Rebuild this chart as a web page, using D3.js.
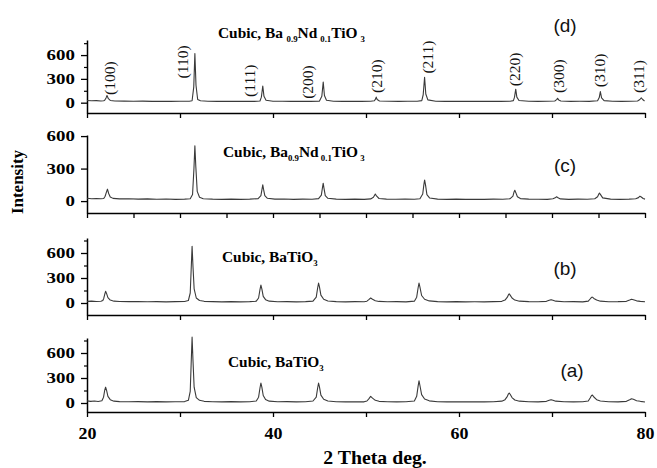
<!DOCTYPE html>
<html>
<head>
<meta charset="utf-8">
<script src="https://cdn.jsdelivr.net/npm/d3@7"></script>
<style>
  html, body { margin: 0; padding: 0; background: #fff; }
  svg { display: block; }
</style>
</head>
<body>
<svg id="chart" width="657" height="468"></svg>
<script>
// ---------- DATA (2θ in degrees, intensity in counts) ----------
const xTickLabels = [20, 40, 60, 80];
const yTickLabels = [0, 300, 600];
const yMinorTicks = [150, 450, 750];

// (d) Cubic Ba0.9Nd0.1TiO3 (top panel)
const patternD = [
  [20,28],[20.5,24],[21,26],[21.5,22],[21.8,24],
  [21.9,30],[22.05,60],[22.15,90],[22.3,50],[22.5,28],
  [23,22],[24,20],[25,18],[26,20],[27,17],[28,19],[29,16],[30,18],[31,19],
  [31.3,24],[31.48,200],[31.6,620],[31.72,220],[31.9,40],[32.2,24],
  [33,18],[34,17],[35,19],[36,16],[37,18],[38,17],[38.6,22],
  [38.75,70],[38.9,210],[39.03,80],[39.25,30],
  [40,18],[41,19],[42,16],[43,18],[44,17],[45,20],
  [45.25,80],[45.4,260],[45.53,90],[45.75,30],
  [46.5,19],[47.5,17],[48.5,18],[49.5,16],[50.5,18],[50.9,24],
  [51.02,45],[51.1,70],[51.2,40],[51.45,22],
  [52.5,18],[53.5,17],[54.5,19],[55.5,18],[56.0,26],
  [56.15,100],[56.3,320],[56.43,110],[56.65,35],
  [57.5,19],[58.5,17],[59.5,18],[60.5,16],[61.5,17],[62.5,18],[63.5,16],[64.5,17],[65.5,19],[65.85,26],
  [65.97,70],[66.1,170],[66.22,70],[66.45,28],
  [67.5,18],[68.5,17],[69.5,18],[70.3,22],
  [70.5,38],[70.6,55],[70.72,35],[70.95,22],
  [72,17],[73,18],[74,17],[74.9,24],
  [75.08,65],[75.2,140],[75.33,60],[75.6,26],
  [76.5,18],[77.5,16],[78.5,18],[79.2,22],
  [79.45,40],[79.6,60],[79.75,40],[79.95,22]
];

// (c) Cubic Ba0.9Nd0.1TiO3
const patternC = [
  [20,26],[20.5,22],[21,24],[21.5,21],[21.8,24],
  [21.95,45],[22.08,80],[22.2,110],[22.33,70],[22.5,38],[22.8,25],
  [23.5,20],[24.5,22],[25.5,18],[26.5,20],[27.5,17],[28.5,19],[29.5,16],[30.5,18],[31.1,22],
  [31.35,60],[31.5,300],[31.6,510],[31.7,320],[31.85,90],[32.1,35],[32.5,22],
  [33.5,18],[34.5,16],[35.5,18],[36.5,16],[37.5,18],[38.4,22],
  [38.7,50],[38.82,110],[38.9,150],[38.98,110],[39.12,50],[39.4,26],
  [40.2,18],[41.2,19],[42.2,16],[43.2,18],[44.2,17],[44.9,23],
  [45.2,55],[45.32,125],[45.4,165],[45.48,120],[45.62,50],[45.9,26],
  [46.8,18],[47.8,16],[48.8,18],[49.8,16],[50.5,20],
  [50.8,35],[51.0,65],[51.15,45],[51.4,24],
  [52.2,18],[53.2,17],[54.2,18],[55.2,17],[55.8,22],
  [56.1,65],[56.22,150],[56.3,195],[56.4,150],[56.55,60],[56.85,28],
  [57.7,18],[58.7,16],[59.7,18],[60.7,16],[61.7,17],[62.7,16],[63.7,18],[64.7,17],[65.5,22],
  [65.8,45],[65.92,85],[66.0,100],[66.1,80],[66.28,40],[66.6,23],
  [67.5,18],[68.5,17],[69.5,16],[70.1,21],
  [70.35,30],[70.5,40],[70.65,30],[70.9,20],
  [71.8,16],[72.8,18],[73.8,17],[74.6,22],
  [74.9,40],[75.05,68],[75.1,75],[75.22,60],[75.45,30],
  [76.3,18],[77.3,16],[78.3,18],[79.0,22],
  [79.3,32],[79.45,45],[79.6,38],[79.8,24],[80,18]
];

// (b) Cubic BaTiO3
const patternB = [
  [20,20],[20.5,22],[21,18],[21.5,21],[21.7,30],
  [21.8,55],[21.92,110],[22.0,140],[22.1,115],[22.25,65],[22.5,35],[22.9,22],
  [23.5,18],[24.5,16],[25.5,18],[26.5,15],[27.5,17],[28.5,14],[29.5,16],[30.5,18],[30.9,30],
  [31.1,120],[31.2,400],[31.3,680],[31.4,430],[31.52,170],[31.75,60],[32.1,30],[32.6,20],
  [33.5,16],[34.5,14],[35.5,16],[36.5,14],[37.5,16],[38.2,22],
  [38.45,60],[38.6,160],[38.7,215],[38.8,170],[38.95,80],[39.2,40],[39.6,22],
  [40.5,15],[41.5,17],[42.5,14],[43.5,16],[44.3,22],
  [44.65,70],[44.8,180],[44.9,240],[45.0,190],[45.15,95],[45.45,45],[45.9,24],
  [46.8,16],[47.8,14],[48.8,16],[49.8,15],[50.1,22],
  [50.3,40],[50.5,60],[50.7,45],[51.0,28],[51.4,19],
  [52.3,15],[53.3,16],[54.3,14],[55.2,22],
  [55.45,70],[55.6,180],[55.7,240],[55.8,190],[55.98,90],[56.3,45],[56.8,25],
  [57.7,16],[58.7,14],[59.7,16],[60.7,14],[61.7,15],[62.7,14],[63.7,16],[64.6,20],[64.95,35],
  [65.2,70],[65.32,100],[65.4,110],[65.5,95],[65.7,60],[66.0,35],[66.5,22],
  [67.5,16],[68.5,15],[69.4,20],
  [69.7,32],[69.9,40],[70.1,33],[70.4,22],
  [71.3,15],[72.3,16],[73.3,14],[73.9,22],
  [74.1,48],[74.25,68],[74.35,70],[74.5,55],[74.8,35],[75.2,22],
  [76.1,15],[77.1,16],[78.0,20],
  [78.35,35],[78.55,45],[78.75,40],[79.1,26],[79.5,20],[80,15]
];

// (a) Cubic BaTiO3 (bottom panel)
const patternA = [
  [20,25],[20.4,20],[20.8,24],[21.2,18],[21.6,28],
  [21.78,70],[21.9,150],[22.0,190],[22.1,155],[22.25,80],[22.5,40],[22.9,22],
  [23.5,17],[24.5,15],[25.5,17],[26.5,14],[27.5,16],[28.5,14],[29.5,15],[30.5,17],[30.9,32],
  [31.1,140],[31.2,470],[31.3,790],[31.4,500],[31.52,190],[31.75,65],[32.1,32],[32.6,20],
  [33.5,15],[34.5,13],[35.5,16],[36.5,14],[37.5,15],[38.2,24],
  [38.45,70],[38.6,180],[38.7,240],[38.8,190],[38.95,90],[39.2,42],[39.6,22],
  [40.5,15],[41.5,16],[42.5,14],[43.5,15],[44.3,24],
  [44.65,70],[44.8,180],[44.9,240],[45.0,190],[45.15,95],[45.45,45],[45.9,24],
  [46.8,15],[47.8,13],[48.8,15],[49.8,14],[50.1,24],
  [50.3,50],[50.5,80],[50.7,58],[51.0,32],[51.4,20],
  [52.3,15],[53.3,14],[54.3,15],[55.2,24],
  [55.45,80],[55.6,200],[55.7,265],[55.8,210],[55.98,100],[56.3,48],[56.8,26],
  [57.7,15],[58.7,14],[59.7,15],[60.7,13],[61.7,15],[62.7,14],[63.7,15],[64.6,22],[64.95,40],
  [65.2,80],[65.32,110],[65.4,120],[65.5,105],[65.7,65],[66.0,36],[66.5,22],
  [67.5,15],[68.5,14],[69.4,20],
  [69.7,32],[69.9,40],[70.1,34],[70.4,22],
  [71.3,15],[72.3,14],[73.3,15],[73.9,24],
  [74.1,60],[74.25,90],[74.35,95],[74.5,72],[74.8,40],[75.2,24],
  [76.1,15],[77.1,14],[78.0,20],
  [78.35,38],[78.55,50],[78.75,44],[79.1,28],[79.5,20],[80,12]
];

// Miller-index annotations of panel (d)
const hklLabels = ["(100)","(110)","(111)","(200)","(210)","(211)","(220)","(300)","(310)","(311)"];
const hklLabelX = [22.47, 30.32, 37.53, 43.76, 51.18, 56.67, 66.02, 70.75, 75.16, 79.35];
const hklLabelY = [98, 306, 73, 49, 122, 367, 208, 122, 196, 122];

const panelLetters = ["(d)", "(c)", "(b)", "(a)"];

// ---------- DRAWING ----------
const svg = d3.select("#chart");
const SERIF = "'Liberation Serif','Times New Roman',Times,serif";
const SANS = "'Liberation Sans',Arial,Helvetica,sans-serif";

const x = d3.scaleLinear().domain([20, 80]).range([87, 645]);

const panels = [
  { data: patternD, y: d3.scaleLinear().domain([-130, 790]).range([113, 40]), minor: true,  xStep: 10,
    title: [{t:"Cubic, Ba"},{t:" ",gap:13},{t:"0.9",sub:true},{t:"Nd"},{t:" ",gap:11},{t:"0.1",sub:true},{t:"TiO"},{t:" ",gap:11},{t:"3",sub:true}],
    titleX: 218, titleY: 38, letterX: 565, letterY: 32 },
  { data: patternC, y: d3.scaleLinear().domain([-110, 610]).range([213, 135]), minor: false, xStep: 5,
    title: [{t:"Cubic,  Ba"},{t:"0.9",sub:true},{t:"Nd"},{t:" ",gap:8},{t:"0.1",sub:true},{t:"TiO"},{t:" ",gap:8},{t:"3",sub:true}],
    titleX: 223, titleY: 157, letterX: 565, letterY: 172 },
  { data: patternB, y: d3.scaleLinear().domain([-144, 780]).range([315, 238]), minor: true, xStep: 10,
    title: [{t:"Cubic,  BaTiO"},{t:"3",sub:true}],
    titleX: 222, titleY: 262, letterX: 565, letterY: 275 },
  { data: patternA, y: d3.scaleLinear().domain([-108, 780]).range([412, 338]), minor: true, xStep: 10,
    title: [{t:"Cubic, BaTiO"},{t:"3",sub:true}],
    titleX: 228, titleY: 367, letterX: 572, letterY: 377 }
];

panels.forEach((p, i) => {
  const g = svg.append("g");
  const y0 = p.y.range()[0];
  const isBottom = i === panels.length - 1;

  // x axis
  const xt = d3.range(20, 80.01, p.xStep);
  const xAxis = d3.axisBottom(x).tickValues(xt).tickSize(5).tickSizeOuter(0)
    .tickFormat(d => (isBottom && xTickLabels.includes(d)) ? d : "");
  const gx = g.append("g").attr("transform", `translate(0,${y0})`).call(xAxis);
  gx.select(".domain").attr("stroke", "#000").attr("stroke-width", 1.5);
  gx.selectAll(".tick line").attr("stroke", "#000").attr("stroke-width", 1.3);
  gx.selectAll("text").attr("font-family", SERIF).attr("font-weight", "bold")
    .attr("font-size", 16).attr("fill", "#000").attr("y", 27).attr("dy", 0)
    .attr("transform", "scale(1.12,1)");

  // y axis
  const yAxis = d3.axisLeft(p.y).tickValues(yTickLabels).tickSize(6).tickSizeOuter(0).tickPadding(3);
  const gy = g.append("g").attr("transform", `translate(${x(20)},0)`).call(yAxis);
  gy.select(".domain").attr("stroke", "#000").attr("stroke-width", 1.5);
  gy.selectAll(".tick line").attr("stroke", "#000").attr("stroke-width", 1.3);
  gy.selectAll("text").attr("font-family", SERIF).attr("font-weight", "bold")
    .attr("font-size", 14).attr("fill", "#000").attr("transform", "scale(1.35,1)");
  if (p.minor) {
    const minorVals = yMinorTicks.filter(v => v <= p.y.domain()[1]);
    const yMinor = d3.axisLeft(p.y).tickValues(minorVals).tickSize(3).tickFormat("");
    const gm = g.append("g").attr("transform", `translate(${x(20)},0)`).call(yMinor);
    gm.select(".domain").remove();
    gm.selectAll(".tick line").attr("stroke", "#000").attr("stroke-width", 1.2);
  }

  // pattern
  const line = d3.line().x(d => x(d[0])).y(d => p.y(d[1]));
  g.append("path").datum(p.data).attr("d", line)
    .attr("fill", "none").attr("stroke", "#3a3a3a").attr("stroke-width", 1.1)
    .attr("stroke-linejoin", "round");

  // title with subscripts
  const t = g.append("text")
    .attr("transform", `translate(${p.titleX},${p.titleY}) scale(1.1,1)`)
    .attr("font-family", SERIF).attr("font-weight", "bold").attr("font-size", 14).attr("fill", "#000");
  let shifted = false;
  p.title.forEach(seg => {
    const ts = t.append("tspan").text(seg.t);
    if (seg.sub) {
      ts.attr("font-size", 8).attr("dy", 4);
      shifted = true;
    } else if (shifted) {
      ts.attr("dy", -4);
      shifted = false;
    }
    if (seg.gap) ts.attr("font-size", seg.gap);
  });

  // panel letter
  g.append("text").attr("x", p.letterX).attr("y", p.letterY)
    .attr("text-anchor", "middle").attr("font-family", SANS).attr("font-size", 19)
    .attr("fill", "#111").text(panelLetters[i]);

  // hkl labels on top panel
  if (i === 0) {
    hklLabels.forEach((lab, k) => {
      g.append("text")
        .attr("transform", `translate(${x(hklLabelX[k])},${p.y(hklLabelY[k])}) rotate(-90)`)
        .attr("dy", "0.35em")
        .attr("font-family", SERIF).attr("font-size", 15.5).attr("fill", "#111")
        .text(lab);
    });
  }
});

// axis titles
svg.append("text")
  .attr("transform", "translate(23,182) rotate(-90)")
  .attr("text-anchor", "middle").attr("font-family", SERIF).attr("font-weight", "bold")
  .attr("font-size", 17).attr("fill", "#000").text("Intensity");

svg.append("text")
  .attr("transform", "translate(375,464) scale(1.1,1)")
  .attr("text-anchor", "middle").attr("font-family", SERIF).attr("font-weight", "bold")
  .attr("font-size", 18).attr("fill", "#000").text("2 Theta deg.");
</script>
</body>
</html>
